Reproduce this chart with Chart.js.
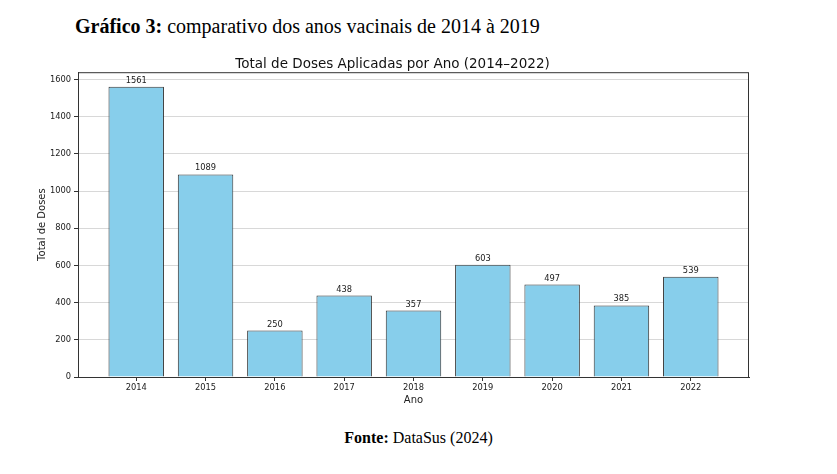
<!DOCTYPE html>
<html lang="pt">

<head>
    <meta charset="UTF-8">
    <title>Total de Doses Aplicadas por Ano</title>
    <script src="https://cdn.jsdelivr.net/npm/chart.js"></script>
    <style>
        body {
            margin: 0;
            width: 837px;
            height: 474px;
            background: #fff;
            position: relative;
            overflow: hidden;
        }

        .heading {
            position: absolute;
            left: 75px;
            top: 15px;
            font-family: "Liberation Serif", serif;
            font-size: 20px;
            color: #000;
            white-space: nowrap;
        }

        .source {
            position: absolute;
            left: 0;
            width: 837px;
            top: 429px;
            text-align: center;
            font-family: "Liberation Serif", serif;
            font-size: 16px;
            color: #000;
        }

        .chart-box {
            position: absolute;
            left: 0;
            top: 40px;
            width: 837px;
            height: 366px;
        }
    </style>
</head>

<body>
    <div class="heading"><b>Gráfico 3:</b> comparativo dos anos vacinais de 2014 à 2019</div>

    <div class="chart-box">
        <canvas id="barChart"></canvas>
    </div>

    <div class="source"><b>Fonte:</b> DataSus (2024)</div>

    <script>
        const years = ['2014', '2015', '2016', '2017', '2018', '2019', '2020', '2021', '2022'];
        const doses = [1561, 1089, 250, 438, 357, 603, 497, 385, 539];
        const yTicks = [0, 200, 400, 600, 800, 1000, 1200, 1400, 1600];

        const tickFont = { family: 'DejaVu Sans', size: 8.3 };
        const darkText = '#222';

        // frame around the plot area and value labels on top of each bar
        const framePlugin = {
            id: 'frame',
            afterDatasetsDraw(chart) {
                const { ctx, chartArea } = chart;
                ctx.save();
                ctx.strokeStyle = '#333';
                ctx.lineWidth = 1;
                ctx.strokeRect(chartArea.left + 0.5, chartArea.top + 0.5,
                    chartArea.right - chartArea.left - 1, chartArea.bottom - chartArea.top);

                ctx.font = '8.3px "DejaVu Sans"';
                ctx.fillStyle = darkText;
                ctx.textAlign = 'center';
                ctx.textBaseline = 'bottom';
                const meta = chart.getDatasetMeta(0);
                meta.data.forEach((bar, i) => {
                    ctx.fillText(String(doses[i]), bar.x, bar.y - 2);
                });
                ctx.restore();
            }
        };

        new Chart(document.getElementById('barChart'), {
            type: 'bar',
            data: {
                datasets: [{
                    data: doses.map((v, i) => ({ x: i, y: v })),
                    backgroundColor: '#87CEEB',
                    borderColor: '#333',
                    borderWidth: 1,
                    barPercentage: 0.8,
                    categoryPercentage: 1
                }]
            },
            options: {
                responsive: true,
                maintainAspectRatio: false,
                animation: false,
                layout: {
                    padding: { left: 36, right: 88, top: 0, bottom: 0 }
                },
                plugins: {
                    legend: { display: false },
                    tooltip: { enabled: false },
                    title: {
                        display: true,
                        text: 'Total de Doses Aplicadas por Ano (2014–2022)',
                        color: '#111',
                        font: { family: 'DejaVu Sans', size: 13.5, weight: 'normal' },
                        padding: { top: 16, bottom: 0 }
                    }
                },
                scales: {
                    x: {
                        type: 'linear',
                        offset: false,
                        min: -0.84,
                        max: 8.84,
                        afterBuildTicks(axis) {
                            axis.ticks = years.map((y, i) => ({ value: i }));
                        },
                        ticks: {
                            callback: (v) => years[v],
                            font: tickFont,
                            color: darkText,
                            padding: 2,
                            maxRotation: 0
                        },
                        grid: {
                            offset: false,
                            drawOnChartArea: false,
                            drawTicks: true,
                            tickLength: 4,
                            tickColor: '#333'
                        },
                        border: { color: '#333', width: 1 },
                        title: {
                            display: true,
                            text: 'Ano',
                            color: darkText,
                            font: { family: 'DejaVu Sans', size: 10 },
                            padding: { top: 1, bottom: 0 }
                        },
                        afterFit(axis) { axis.height = 29; }
                    },
                    y: {
                        min: 0,
                        max: 1639,
                        afterBuildTicks(axis) {
                            axis.ticks = yTicks.map(v => ({ value: v }));
                        },
                        ticks: {
                            callback: (v) => String(v),
                            font: tickFont,
                            color: darkText,
                            padding: 3
                        },
                        grid: {
                            color: 'rgba(190,190,190,0.6)',
                            borderDash: [2, 2],
                            tickColor: '#333',
                            tickBorderDash: [],
                            tickLength: 4
                        },
                        border: { color: '#333', width: 1 },
                        title: {
                            display: true,
                            text: 'Total de Doses',
                            color: darkText,
                            font: { family: 'DejaVu Sans', size: 10 },
                            padding: 0
                        },
                        afterFit(axis) { axis.width = 42; }
                    }
                }
            },
            plugins: [framePlugin]
        });
    </script>

</body>

</html>
